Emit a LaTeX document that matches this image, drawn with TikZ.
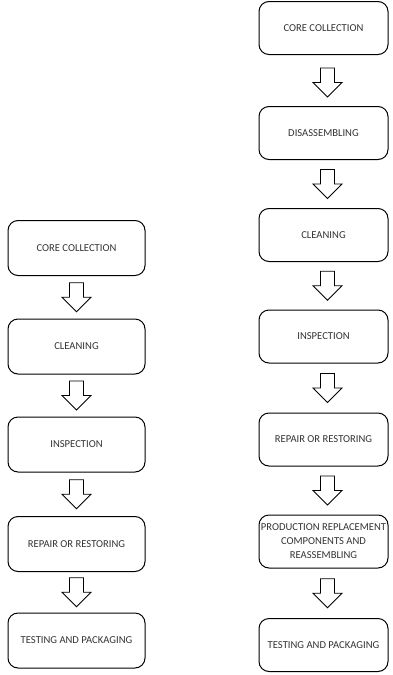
\documentclass[tikz,border=0pt]{standalone}
\usepackage{fontspec}
\setmainfont{Carlito}
\usetikzlibrary{calc}
\tikzset{
  stepbox/.style={draw=black, line width=1pt, rounded corners=10pt, align=center,
    font=\fontsize{10.6}{14}\selectfont, text=black!80, inner sep=0pt},
  lbox/.style={stepbox, minimum width=137pt, minimum height=55pt},
  rbox/.style={stepbox, minimum width=129pt, minimum height=53pt},
  barrow/.pic={\draw[line width=0.9pt, line join=miter] (-7,-14.5) -- (7,-14.5) -- (7,0) -- (14.5,0) -- (0,14.5) -- (-14.5,0) -- (-7,0) -- cycle;}
}
\begin{document}
\begin{tikzpicture}[x=1pt, y=-1pt]
\useasboundingbox (0,0) rectangle (393,675);
% left column
\node[lbox] (l1) at (76.5,248) {CORE COLLECTION};
\node[lbox] (l2) at (76.5,346.5) {CLEANING};
\node[lbox] (l3) at (76.5,444.5) {INSPECTION};
\node[lbox] (l4) at (76.5,544) {REPAIR OR RESTORING};
\node[lbox] (l5) at (76.5,640.5) {TESTING AND PACKAGING};
\pic at ($(l1.south)!0.5!(l2.north)$) {barrow};
\pic at ($(l2.south)!0.5!(l3.north)$) {barrow};
\pic at ($(l3.south)!0.5!(l4.north)$) {barrow};
\pic at ($(l4.south)!0.5!(l5.north)$) {barrow};
% right column
\node[rbox] (r1) at (323.5,28) {CORE COLLECTION};
\node[rbox] (r2) at (323.5,133) {DISASSEMBLING};
\node[rbox] (r3) at (323.5,235) {CLEANING};
\node[rbox] (r4) at (323.5,336.5) {INSPECTION};
\node[rbox] (r5) at (323.5,439.5) {REPAIR OR RESTORING};
\node[rbox] (r6) at (323.5,541.5) {PRODUCTION REPLACEMENT\\COMPONENTS AND\\REASSEMBLING};
\node[rbox] (r7) at (323.5,645) {TESTING AND PACKAGING};
\pic at ($(r1.south)!0.5!(r2.north)+(4,2)$) {barrow};
\pic at ($(r2.south)!0.5!(r3.north)+(4,0)$) {barrow};
\pic at ($(r3.south)!0.5!(r4.north)+(4,0)$) {barrow};
\pic at ($(r4.south)!0.5!(r5.north)+(4,0)$) {barrow};
\pic at ($(r5.south)!0.5!(r6.north)+(4,0)$) {barrow};
\pic at ($(r6.south)!0.5!(r7.north)+(4,0)$) {barrow};
\end{tikzpicture}
\end{document}
